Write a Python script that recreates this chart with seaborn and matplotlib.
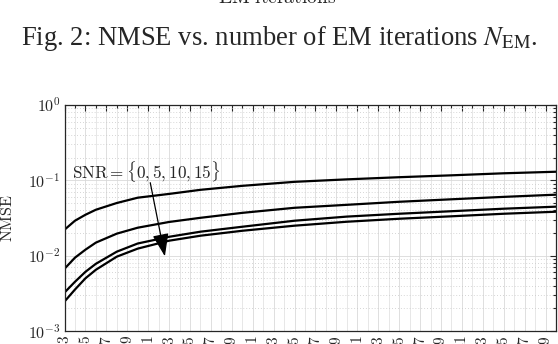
import numpy as np
import pandas as pd
import matplotlib
matplotlib.use("Agg")
import matplotlib.pyplot as plt
import seaborn as sns

# NMSE vs. number of EM iterations
n_em = [3, 4, 5, 6, 8, 10, 13, 16, 20, 25, 30, 35, 40, 45, 50]
nmse_snr0 = [0.0221, 0.0291, 0.0349, 0.0407, 0.050, 0.0588, 0.066, 0.0748,
             0.0845, 0.0955, 0.103, 0.110, 0.1165, 0.124, 0.130]
nmse_snr5 = [0.0067, 0.0094, 0.0120, 0.0149, 0.0196, 0.0235, 0.028, 0.0318,
             0.037, 0.0432, 0.0473, 0.0519, 0.056, 0.0603, 0.0645]
nmse_snr10 = [0.00324, 0.0045, 0.0061, 0.0078, 0.0113, 0.0145, 0.0178, 0.0208,
              0.0242, 0.0291, 0.033, 0.036, 0.0389, 0.042, 0.0447]
nmse_snr15 = [0.00246, 0.00355, 0.0050, 0.0065, 0.0097, 0.0124, 0.0158, 0.0184,
              0.0214, 0.025, 0.0282, 0.0309, 0.0333, 0.036, 0.0383]
snr_values = [0, 5, 10, 15]

x_major = list(range(3, 50, 2))
x_minor = list(range(4, 51, 2))
y_ticks = [1e-3, 1e-2, 1e-1, 1e0]
y_ticklabels = [r"$10^{-3}$", r"$10^{-2}$", r"$10^{-1}$", r"$10^{0}$"]

caption = r"Fig. 2: NMSE vs. number of EM iterations $N_{\mathrm{EM}}$."
prev_xlabel = r"$\mathrm{EM\ iterations}$"
annot_text = r"$\mathrm{SNR} = \{0, 5, 10, 15\}$"

# long-form table for seaborn
series = [nmse_snr0, nmse_snr5, nmse_snr10, nmse_snr15]
df = pd.concat([pd.DataFrame({"N": n_em, "NMSE": s, "SNR": snr})
                for s, snr in zip(series, snr_values)], ignore_index=True)

sns.set_style("white")
plt.rcParams["mathtext.fontset"] = "cm"
plt.rcParams["font.family"] = ["DejaVu Serif"]

fig = plt.figure(figsize=(5.58, 3.44), dpi=100)
ax = fig.add_axes([0.1156, 0.0378, 0.9964 - 0.1156, 0.6948 - 0.0378])

sns.lineplot(data=df, x="N", y="NMSE", hue="SNR", palette={s: "black" for s in snr_values},
             linewidth=1.6, legend=False, ax=ax)

ax.set_yscale("log")
ax.set_ylim(1e-3, 1)
ax.set_xlim(3, 50)

ax.set_xticks(x_major)
ax.set_xticks(x_minor, minor=True)
ax.set_xticklabels([rf"${v}$" for v in x_major], rotation=90, fontsize=11)
ax.set_yticks(y_ticks)
ax.set_yticklabels(y_ticklabels, fontsize=11.5)
ax.yaxis.set_minor_locator(matplotlib.ticker.LogLocator(base=10, subs=np.arange(2, 10)))
ax.yaxis.set_minor_formatter(matplotlib.ticker.NullFormatter())

ax.tick_params(which="both", direction="in", top=True, right=True, color="#262626", width=0.8)
ax.tick_params(which="major", length=4, pad=3)
ax.tick_params(which="minor", length=2)

ax.grid(which="major", axis="both", color="#d9d9d9", linewidth=0.6, linestyle="-")
ax.grid(which="minor", axis="x", color="#e3e3e3", linewidth=0.6, linestyle="-")
ax.grid(which="minor", axis="y", color="#c8c8c8", linewidth=0.6, linestyle=(0, (1, 2.5)))
ax.set_axisbelow(True)

for sp in ax.spines.values():
    sp.set_visible(True)
    sp.set_color("#262626")
    sp.set_linewidth(0.9)

ax.set_xlabel("")
ax.set_ylabel(r"$\mathrm{NMSE}$", fontsize=11.5)
ax.yaxis.set_label_coords(-0.099, 0.5)

ax.text(3.72, 0.13, annot_text, fontsize=12.3, ha="left", va="center")
ax.annotate("", xy=(12.6, 0.0098), xytext=(11.2, 0.093),
            arrowprops=dict(arrowstyle="-|>,head_length=1.4,head_width=0.5",
                            color="black", lw=0.9, shrinkA=0, shrinkB=0))

fig.text(0.501, 0.870, caption, ha="center", va="baseline", fontsize=19.2,
         family="Liberation Serif", math_fontfamily="stix")
fig.text(0.497, 0.991, prev_xlabel, ha="center", va="baseline", fontsize=14)

fig.savefig("out.png", dpi=100)
